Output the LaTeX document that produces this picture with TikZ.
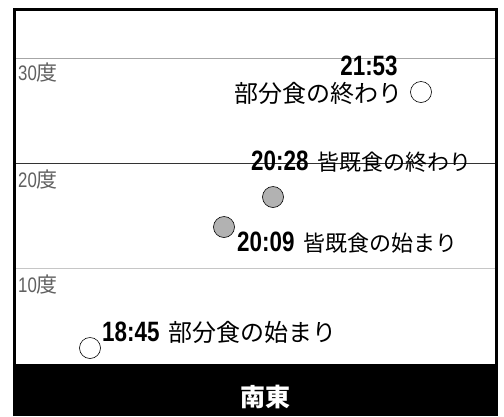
\documentclass[tikz,border=0pt]{standalone}
\usepackage{fontspec}
\setmainfont{Noto Sans CJK JP}
\newfontfamily\digitfont[FakeStretch=0.8]{Liberation Sans}
\usetikzlibrary{positioning}

\newcommand\etime[1]{{\fontsize{28}{28}\selectfont\digitfont\bfseries #1}\hspace{9pt}}
\newcommand\jsize[1]{\fontsize{#1}{#1}\selectfont}

\tikzset{
	degree/.style={anchor=west, inner sep=0pt, text=gray!75!black, font=\jsize{21}},
	partial/.style={circle, draw, semithick, fill=white, inner sep=0pt, minimum size=21pt},
	total/.style={partial, fill=gray!60},
	event/.style={anchor=west, inner sep=0pt}
}

\begin{document}
\begin{tikzpicture}[x=1pt,y=-1pt]

\useasboundingbox (0,0) rectangle (504,416);

\draw[gray!70]			(14,58) -- (497,58);
\draw[gray!40!black]	(14,163) -- (497,163);
\draw[gray!45, thick]	(14,268) -- (497,268);

\node[degree] (d30) at (18,73)	{{\digitfont 30}度};
\node[degree] (d20) at (18,180)	{{\digitfont 20}度};
\node[degree] (d10) at (18,285)	{{\digitfont 10}度};

\node[partial]	(p2153) at (421,92)		{};
\node[total]	(t2028) at (273,197)	{};
\node[total]	(t2009) at (224,227)	{};
\node[partial]	(p1845) at (90,348)		{};

\node[anchor=center, inner sep=0pt] (e2153) at (369,66)	{{\fontsize{28}{28}\selectfont\digitfont\bfseries 21:53}};
\node[event] (l2153) at (234,93)	{\jsize{24}部分食の終わり};
\node[event] (e2028) at (251,162)	{\etime{20:28}\jsize{22}皆既食の終わり};
\node[event] (e2009) at (237,243)	{\etime{20:09}\jsize{22}皆既食の始まり};
\node[event] (e1845) at (102,332)	{\etime{18:45}\jsize{24}部分食の始まり};

\fill (13,364) rectangle (498,416);
\draw[line width=2.5pt] (14.5,416) -- (14.5,9.5) -- (496.5,9.5) -- (496.5,416);
\node[text=white, font=\jsize{25}\bfseries] (dir) at (265,397) {南東};

\end{tikzpicture}
\end{document}
